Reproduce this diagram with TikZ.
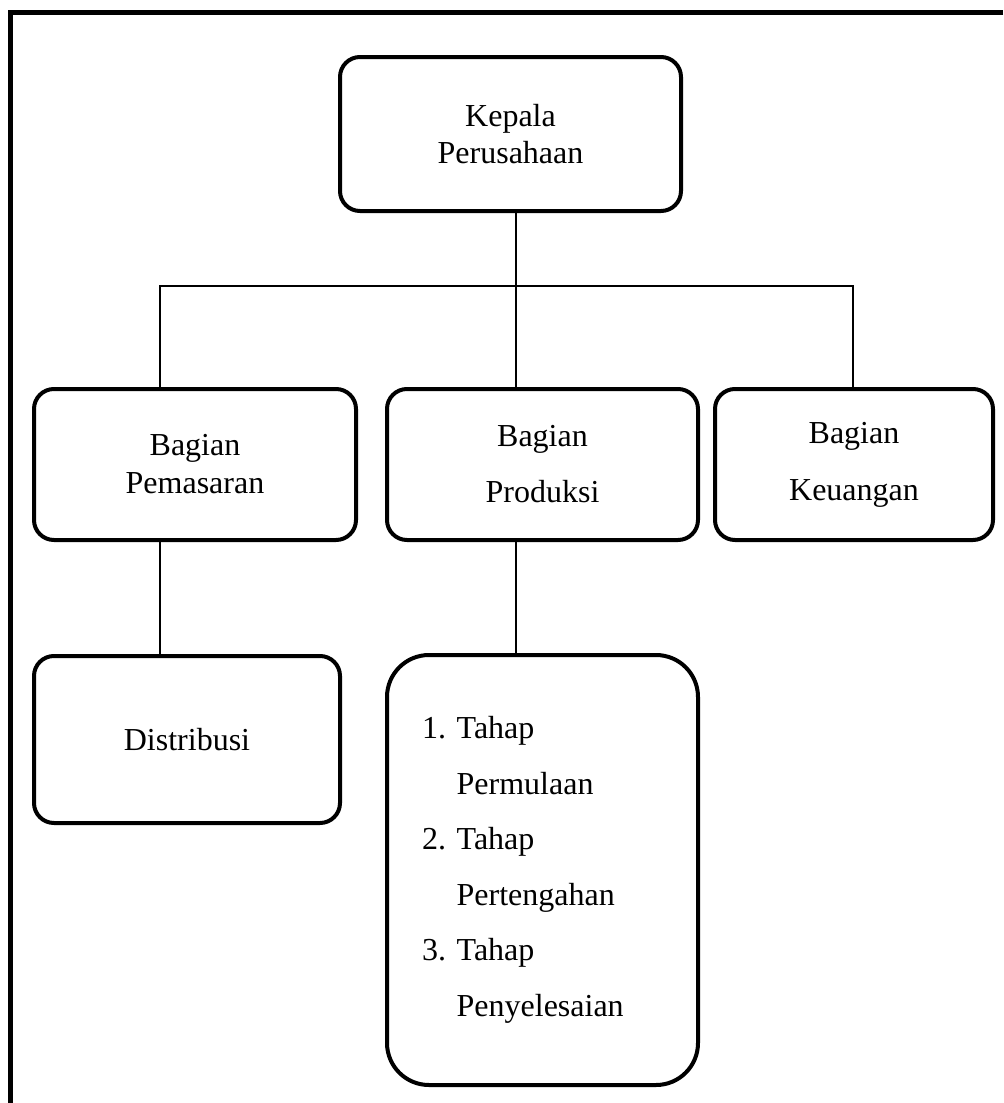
\documentclass[tikz,border=0pt]{standalone}
\usepackage{fontspec}
\setmainfont{Liberation Serif}
\begin{document}
\begin{tikzpicture}[x=0.5pt, y=-0.5pt,
    orgbox/.style={draw, line width=2pt, rounded corners=10pt, align=center, inner sep=0pt},
    conn/.style={line width=0.75pt}]
    \useasboundingbox (0,0) rectangle (1003,1103);
    \draw[line width=2.5pt] (1003,12.5) -- (10,12.5) -- (10,1103); % rahmen

    \node[orgbox, minimum width=170.5pt, minimum height=77pt, font=\fontsize{16}{18.5}\selectfont] (kepala) at (510.5,134) {Kepala\\Perusahaan};

    \node[orgbox, minimum width=161pt, minimum height=75.5pt, font=\fontsize{16}{19}\selectfont] (pemasaran) at (195,464.5) {Bagian\\Pemasaran};
    \node[orgbox, minimum width=155.5pt, minimum height=75.5pt, font=\fontsize{16}{28}\selectfont] (produksi) at (542.5,464.5) {Bagian\\Produksi};
    \node[orgbox, minimum width=139pt, minimum height=75.5pt, font=\fontsize{16}{28.5}\selectfont] (keuangan) at (854,464.5) {Bagian\\Keuangan};

    \node[orgbox, minimum width=153pt, minimum height=83.5pt, font=\fontsize{16}{19}\selectfont] (distribusi) at (187,739.5) {Distribusi};
    \node[orgbox, rounded corners=21pt, align=left, text width=120.5pt, inner xsep=17.5pt, minimum height=215pt, font=\fontsize{16}{27.75}\selectfont] (tahap) at (542.5,870)
        {1.~Tahap\\\phantom{1.~}Permulaan\\2.~Tahap\\\phantom{2.~}Pertengahan\\3.~Tahap\\\phantom{3.~}Penyelesaian};

    \coordinate (jl) at (160,286);
    \coordinate (jm) at (516,286);
    \coordinate (jr) at (853,286);

    \draw[conn] (kepala.south -| jm) -- (produksi.north -| jm);
    \draw[conn] (pemasaran.north -| jl) -- (jl) -- (jr) -- (keuangan.north -| jr);
    \draw[conn] (pemasaran.south -| jl) -- (distribusi.north -| jl);
    \draw[conn] (produksi.south -| jm) -- (tahap.north -| jm);
\end{tikzpicture}
\end{document}
